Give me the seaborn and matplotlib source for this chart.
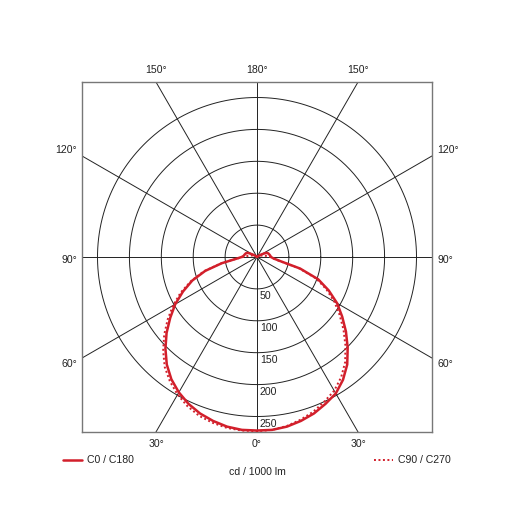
import numpy as np
import pandas as pd
import matplotlib
matplotlib.use("Agg")
import matplotlib.pyplot as plt
from matplotlib.lines import Line2D
import seaborn as sns

# Datos fotométricos (cd / 1000 lm), ángulos gamma 0..180 cada 5°
angulos = list(range(0, 181, 5))
c0 = [272, 272, 270, 266, 261, 254, 245, 234, 220, 203, 185, 166, 148, 128, 108, 84, 56, 33,
      24, 21, 20, 19, 18, 15, 8, 3, 1, 0.5, 0.5, 0.5, 0.5, 0.5, 0.5, 0.5, 0.5, 0.5, 0.5]
c180 = [272, 272, 270, 266, 261, 254, 247, 235, 220, 201, 182, 163, 145, 124, 102, 70, 37, 26,
        22, 21, 20, 19, 18, 15, 8, 3, 1, 0.5, 0.5, 0.5, 0.5, 0.5, 0.5, 0.5, 0.5, 0.5, 0.5]
c90 = [273, 273, 272, 269, 265, 258, 249, 238, 225, 208, 190, 171, 152, 132, 110, 86, 57, 33,
       22, 16, 12, 9, 6, 4, 3, 2, 1, 0.5, 0.5, 0.5, 0.5, 0.5, 0.5, 0.5, 0.5, 0.5, 0.5]
c270 = [273, 272, 269, 264, 258, 250, 242, 230, 215, 196, 177, 158, 140, 120, 99, 68, 36, 25,
        21, 16, 12, 9, 6, 4, 3, 2, 1, 0.5, 0.5, 0.5, 0.5, 0.5, 0.5, 0.5, 0.5, 0.5, 0.5]

anillos = [50, 100, 150, 200, 250]
etiquetas_abajo = ["30°", "0°", "30°"]
etiquetas_arriba = ["150°", "180°", "150°"]
etiquetas_lado = ["120°", "90°", "60°"]

LIM = 274.3
ROJO = "#d21f2b"


def curva(izq, der):
    # izquierda: de 180 a 0, derecha: de 0 a 180
    g = np.radians(angulos)
    xi = -np.array(izq) * np.sin(g)
    yi = -np.array(izq) * np.cos(g)
    xd = np.array(der) * np.sin(g)
    yd = -np.array(der) * np.cos(g)
    x = np.concatenate([xi[::-1], xd[1:]])
    y = np.concatenate([yi[::-1], yd[1:]])
    return pd.DataFrame({"x": x, "y": y})


sns.set_style("white")
plt.rcParams["font.family"] = ["Liberation Sans", "DejaVu Sans"]

fig = plt.figure(figsize=(5.15, 5.15), dpi=100)
ax = fig.add_axes([82 / 515, 83 / 515, 350 / 515, 350 / 515])
ax.set_xlim(-LIM, LIM)
ax.set_ylim(-LIM, LIM)
ax.set_aspect("equal")
ax.set_xticks([])
ax.set_yticks([])
for s in ax.spines.values():
    s.set_color("#777777")
    s.set_linewidth(1.0)

# Rejilla polar
t = np.linspace(0, 2 * np.pi, 400)
for r in anillos:
    ax.plot(r * np.cos(t), r * np.sin(t), color="#222222", lw=0.7, zorder=1)
    ax.text(4.5, -r - 3.5, str(r), ha="left", va="top", fontsize=7.6, color="#222222")
for a in range(0, 180, 30):
    ar = np.radians(a)
    ax.plot([-600 * np.sin(ar), 600 * np.sin(ar)], [-600 * np.cos(ar), 600 * np.cos(ar)],
            color="#222222", lw=0.7, zorder=1)

# Curvas
d1 = curva(c0, c180)
d2 = curva(c90, c270)
sns.lineplot(data=d2, x="x", y="y", sort=False, estimator=None, color=ROJO, lw=1.4,
             linestyle=(0, (1, 1.3)), ax=ax, zorder=3)
sns.lineplot(data=d1, x="x", y="y", sort=False, estimator=None, color=ROJO, lw=1.8, ax=ax, zorder=4)
ax.set_xlabel("")
ax.set_ylabel("")

# Etiquetas de ángulo
xh = LIM * np.tan(np.radians(30))
for xx, lab in zip([-xh, 0, xh], etiquetas_abajo):
    ax.text(xx, -LIM - 19, lab, ha="center", va="center", fontsize=7.6, color="#222222", clip_on=False)
for xx, lab in zip([-xh, 0, xh], etiquetas_arriba):
    ax.text(xx, LIM + 19, lab, ha="center", va="center", fontsize=7.6, color="#222222", clip_on=False)
for yy, lab in zip([167.7, -4.7, -167.7], etiquetas_lado):
    ax.text(-LIM - 8, yy, lab, ha="right", va="center", fontsize=7.6, color="#222222", clip_on=False)
    ax.text(LIM + 8, yy, lab, ha="left", va="center", fontsize=7.6, color="#222222", clip_on=False)

# Leyenda manual
yl = 1 - 460 / 515
fig.add_artist(Line2D([63 / 515, 82 / 515], [yl, yl], color=ROJO, lw=1.8))
fig.text(87 / 515, yl, "C0 / C180", ha="left", va="center", fontsize=7.6, color="#222222")
fig.add_artist(Line2D([374 / 515, 393 / 515], [yl, yl], color=ROJO, lw=1.4, linestyle=(0, (1, 1.3))))
fig.text(398 / 515, yl, "C90 / C270", ha="left", va="center", fontsize=7.6, color="#222222")
fig.text(257 / 515, 1 - 472 / 515, "cd / 1000 lm", ha="center", va="center", fontsize=7.6, color="#222222")

fig.savefig("out.png", dpi=100, facecolor="white")
